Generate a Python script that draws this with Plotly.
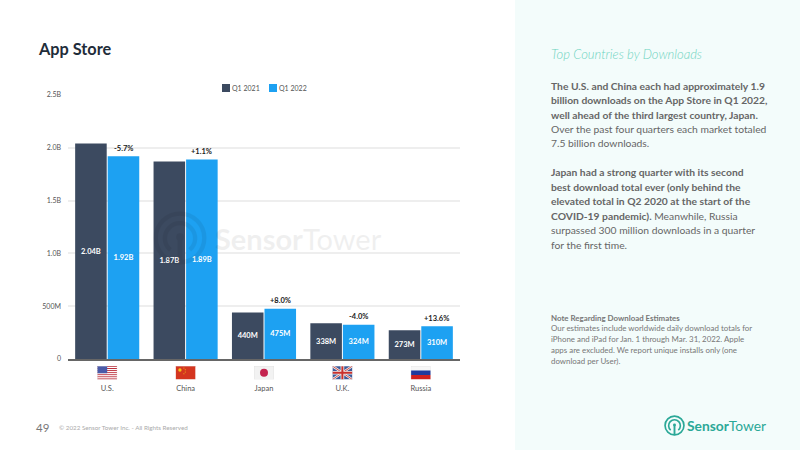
import base64
import plotly.graph_objects as go

countries = ["U.S.", "China", "Japan", "U.K.", "Russia"]
q1_2021 = [2.04, 1.87, 0.440, 0.338, 0.273]
q1_2022 = [1.92, 1.89, 0.475, 0.324, 0.310]
labels_2021 = ["2.04B", "1.87B", "440M", "338M", "273M"]
labels_2022 = ["1.92B", "1.89B", "475M", "324M", "310M"]
changes = ["-5.7%", "+1.1%", "+8.0%", "-4.0%", "+13.6%"]
tick_values = [0, 0.5, 1.0, 1.5, 2.0, 2.5]
tick_labels = ["0", "500M", "1.0B", "1.5B", "2.0B", "2.5B"]

FONT = "Lato"
DARK = "#3c4a60"
BLUE = "#1da1f2"
TEAL = "#2aa897"
W, H = 800, 450
LEFT, RIGHT, TOP, BOTTOM = 68, 460, 95, 359
TEXT_INSET = 3  # annotations draw slightly inside their anchor


def px(x):
    return (x - LEFT) / (RIGHT - LEFT)


def py(y):
    return (BOTTOM - y) / (BOTTOM - TOP)


def svg_uri(svg):
    return "data:image/svg+xml;base64," + base64.b64encode(svg.encode()).decode()


def logo_svg(color):
    return (
        f'<svg xmlns="http://www.w3.org/2000/svg" viewBox="0 0 100 100" fill="none" stroke="{color}" stroke-width="8">'
        '<circle cx="50" cy="50" r="45"/>'
        '<path d="M32 72 A28 28 0 1 1 68 72"/>'
        '<path d="M50 50 V96" stroke-width="9"/>'
        f'<circle cx="50" cy="48" r="7" fill="{color}" stroke="none"/></svg>'
    )


def flag_svg(body):
    return svg_uri(
        '<svg xmlns="http://www.w3.org/2000/svg" viewBox="0 0 60 40" preserveAspectRatio="none">'
        f'{body}<rect x="0.5" y="0.5" width="59" height="39" fill="none" stroke="#ddd"/></svg>'
    )


us_stripes = "".join(
    f'<rect y="{i * 40 / 13:.2f}" width="60" height="{40 / 13:.2f}" fill="{"#b8222f" if i % 2 == 0 else "#fff"}"/>'
    for i in range(13)
)
flags = [
    flag_svg(us_stripes + '<rect width="30" height="21.5" fill="#4a5aa8"/>'),
    flag_svg('<rect width="60" height="40" fill="#d4351f"/>'
             '<circle cx="13" cy="12" r="5" fill="#f5c518"/><circle cx="25" cy="6" r="1.6" fill="#f5c518"/>'
             '<circle cx="29" cy="11" r="1.6" fill="#f5c518"/><circle cx="29" cy="18" r="1.6" fill="#f5c518"/>'
             '<circle cx="25" cy="23" r="1.6" fill="#f5c518"/>'),
    flag_svg('<rect width="60" height="40" fill="#f2f2f2"/><circle cx="30" cy="20" r="12" fill="#c4234f"/>'),
    flag_svg('<rect width="60" height="40" fill="#3c5a9a"/>'
             '<path d="M0 0L60 40M60 0L0 40" stroke="#eee" stroke-width="7"/>'
             '<path d="M0 0L60 40M60 0L0 40" stroke="#c9302c" stroke-width="2.5"/>'
             '<path d="M30 0V40M0 20H60" stroke="#eee" stroke-width="11"/>'
             '<path d="M30 0V40M0 20H60" stroke="#c9302c" stroke-width="6"/>'),
    flag_svg('<rect width="60" height="13.4" fill="#f7f7f7"/><rect y="13.3" width="60" height="13.4" fill="#1f3a9e"/>'
             '<rect y="26.7" width="60" height="13.3" fill="#d0201f"/>'),
]

fig = go.Figure()
fig.add_bar(name="Q1 2021", x=countries, y=q1_2021, marker_color=DARK, text=labels_2021)
fig.add_bar(name="Q1 2022", x=countries, y=q1_2022, marker_color=BLUE, text=labels_2022)
fig.update_traces(
    textposition="inside", insidetextanchor="middle", textangle=0, marker_line_width=0,
    textfont=dict(family=FONT, size=7.5, color="#ffffff", weight=700),
    cliponaxis=False,
)


def note(x, y, text, size, color, weight=None, style=None, opacity=None):
    font = dict(family=FONT, size=size, color=color)
    if weight:
        font["weight"] = weight
    if style:
        font["style"] = style
    args = dict(xref="paper", yref="paper", x=px(x - TEXT_INSET), y=py(y), text=text, showarrow=False,
                xanchor="left", yanchor="middle", align="left", font=font)
    if opacity is not None:
        args["opacity"] = opacity
    fig.add_annotation(**args)


# Change labels sit over the Q1 2022 bars
for name, value, change in zip(countries, q1_2022, changes):
    fig.add_annotation(x=name, y=value, text=change, showarrow=False, xshift=16, yshift=8,
                       yanchor="middle", font=dict(family=FONT, size=7.5, color="#1a1a1a", weight=700))

shapes = [
    dict(type="rect", xref="paper", yref="paper", x0=px(515), x1=px(800), y0=py(0), y1=py(450),
         fillcolor="#f3fcfb", line_width=0, layer="below"),
    dict(type="rect", xref="paper", yref="paper", x0=px(222), x1=px(230), y0=py(84), y1=py(92),
         fillcolor=DARK, line_width=0),
    dict(type="rect", xref="paper", yref="paper", x0=px(269), x1=px(277), y0=py(84), y1=py(92),
         fillcolor=BLUE, line_width=0),
]

note(233, 88, "Q1 2021", 7, "#555555")
note(280, 88, "Q1 2022", 7, "#555555")
note(39, 49, "App Store", 16.3, "#1f2d3a", weight=700)
note(37, 427, "49", 11.5, "#777777")
note(60, 428, "© 2022 Sensor Tower Inc. - All Rights Reserved", 6.25, "#aaaaaa")

# Watermark across the chart
note(216, 238, "Sensor<span style='font-weight:400'>Tower</span>", 29, "#000000", weight=700, opacity=0.06)

# Side panel copy
note(552, 54, "Top Countries by Downloads", 13, "#6dd3c0", style="italic", weight=300)
body_lines = [
    (86, "<b>The U.S. and China each had approximately 1.9</b>"),
    (100, "<b>billion downloads on the App Store in Q1 2022,</b>"),
    (115, "<b>well ahead of the third largest country, Japan.</b>"),
    (129, "Over the past four quarters each market totaled"),
    (143, "7.5 billion downloads."),
    (172, "<b>Japan had a strong quarter with its second</b>"),
    (187, "<b>best download total ever (only behind the</b>"),
    (201, "<b>elevated total in Q2 2020 at the start of the</b>"),
    (216, "<b>COVID-19 pandemic).</b> Meanwhile, Russia"),
    (230, "surpassed 300 million downloads in a quarter"),
    (245, "for the first time."),
]
for y, line in body_lines:
    note(552, y, line, 10.3, "#666666")
note_lines = [
    (318, "<b>Note Regarding Download Estimates</b>"),
    (328, "Our estimates include worldwide daily download totals for"),
    (339, "iPhone and iPad for Jan. 1 through Mar. 31, 2022. Apple"),
    (350, "apps are excluded. We report unique installs only (one"),
    (361, "download per User)."),
]
for y, line in note_lines:
    note(552, y, line, 7.9, "#777777")

note(688, 425, "Sensor<span style='font-weight:400'>Tower</span>", 13.8, TEAL, weight=700)

images = [
    dict(source=flag, xref="paper", yref="paper", x=(i + 0.5) / len(countries), y=py(366),
         sizex=20 / (RIGHT - LEFT), sizey=13.5 / (BOTTOM - TOP), xanchor="center", yanchor="top",
         sizing="stretch", layer="above")
    for i, flag in enumerate(flags)
]
images.append(dict(source=svg_uri(logo_svg(TEAL)), xref="paper", yref="paper", x=px(664), y=py(415),
                   sizex=21 / (RIGHT - LEFT), sizey=21 / (BOTTOM - TOP), xanchor="left", yanchor="top",
                   sizing="stretch", layer="above"))
images.append(dict(source=svg_uri(logo_svg("#000000")), xref="paper", yref="paper", x=px(153), y=py(211),
                   sizex=54 / (RIGHT - LEFT), sizey=54 / (BOTTOM - TOP), xanchor="left", yanchor="top",
                   sizing="stretch", layer="above", opacity=0.06))

fig.update_layout(
    width=W, height=H, autosize=False, showlegend=False,
    margin=dict(l=LEFT, r=W - RIGHT, t=TOP, b=H - BOTTOM, pad=0),
    paper_bgcolor="#ffffff", plot_bgcolor="rgba(0,0,0,0)",
    barmode="group", bargap=0.17, bargroupgap=0.03,
    shapes=shapes, images=images,
    font=dict(family=FONT),
    xaxis=dict(type="category", showline=True, linecolor="#666666", linewidth=2, showgrid=False,
               ticks="", ticklabelstandoff=21, tickfont=dict(family=FONT, size=7.5, color="#555555")),
    yaxis=dict(range=[0, 2.5], tickmode="array", tickvals=tick_values, ticktext=tick_labels,
               showgrid=True, gridcolor="#eeeeee", gridwidth=1.5, zeroline=False, showline=False,
               ticks="", ticklabelstandoff=6, tickfont=dict(family=FONT, size=7, color="#555555")),
)

fig.write_html("out.html")
